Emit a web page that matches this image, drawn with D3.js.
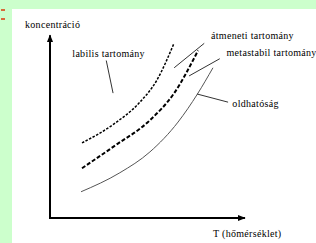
<!DOCTYPE html>
<meta charset="utf-8">
<script src="https://d3js.org/d3.v7.min.js"></script>
<style>
body { margin: 0; }
</style>
<body>
<script>
// curve points, in axis units (0..100 on both axes)
var oldhatosag = [[16, 14.5], [36, 25], [51.5, 36.5], [66, 53], [76, 68.5], [84, 83]];
var metastabil = [[16.5, 27.5], [33.5, 40], [51.5, 54], [64, 69], [76.3, 92.5]];
var labilis = [[16.5, 41.5], [33, 52], [45.9, 63.5], [55, 76], [63.9, 96.5]];

// labels: text, anchor point [x, y] in axis units
var labelText = ["labilis tartomány", "átmeneti tartomány", "metastabil tartomány", "oldhatóság"];
var labelPos = [[11.5, 89], [83, 99], [91, 89.5], [94, 61.5]];
// leader lines from label to region
var leaderFrom = [[29, 87], [79.5, 96.5], [87.5, 88], [91.8, 64]];
var leaderTo = [[32.5, 69], [64, 83], [71.7, 78.5], [75.8, 68.5]];

var axisTitleY = "koncentráció";
var axisTitleX = "T (hőmérséklet)";

var W = 316, H = 243;
var font = "'Liberation Serif', 'Times New Roman', serif";
var svg = d3.select("body").append("svg")
    .attr("width", W)
    .attr("height", H);

// page background
svg.append("rect").attr("width", W).attr("height", H).attr("fill", "#ccffcc");
svg.append("rect").attr("x", 12).attr("y", 9).attr("width", W - 12).attr("height", H - 9).attr("fill", "#fff");
// little marks top-left
[9, 18].forEach(function(y) {
    svg.append("rect").attr("x", 1).attr("y", y).attr("width", 4).attr("height", 2).attr("fill", "#d86a3a");
});

var x = d3.scaleLinear().domain([0, 100]).range([50, 244]);
var y = d3.scaleLinear().domain([0, 100]).range([218, 37]);

// axes with arrows
svg.append("defs").append("marker")
    .attr("id", "arrow")
    .attr("viewBox", "0 0 10 10")
    .attr("refX", 9).attr("refY", 5)
    .attr("markerWidth", 4).attr("markerHeight", 4)
    .attr("markerUnits", "strokeWidth")
    .attr("orient", "auto")
    .append("path").attr("d", "M0,1 L10,5 L0,9 Z").attr("fill", "#000");

svg.append("line")
    .attr("x1", x(0)).attr("y1", y(0))
    .attr("x2", x(0)).attr("y2", y(101))
    .attr("stroke", "#000").attr("stroke-width", 2)
    .attr("marker-end", "url(#arrow)");
svg.append("line")
    .attr("x1", x(0) - 1).attr("y1", y(0))
    .attr("x2", x(100.5)).attr("y2", y(0))
    .attr("stroke", "#000").attr("stroke-width", 2)
    .attr("marker-end", "url(#arrow)");

var line = d3.line()
    .x(function(d) { return x(d[0]); })
    .y(function(d) { return y(d[1]); })
    .curve(d3.curveMonotoneX);

svg.append("path").datum(oldhatosag)
    .attr("d", line).attr("fill", "none")
    .attr("stroke", "#555").attr("stroke-width", 1);
svg.append("path").datum(metastabil)
    .attr("d", line).attr("fill", "none")
    .attr("stroke", "#000").attr("stroke-width", 2)
    .attr("stroke-dasharray", "4,2");
svg.append("path").datum(labilis)
    .attr("d", line).attr("fill", "none")
    .attr("stroke", "#000").attr("stroke-width", 1.5)
    .attr("stroke-dasharray", "2.5,1.5");

// leader lines
svg.selectAll(".leader")
    .data(leaderFrom)
    .enter().append("line")
    .attr("class", "leader")
    .attr("x1", function(d) { return x(d[0]); })
    .attr("y1", function(d) { return y(d[1]); })
    .attr("x2", function(d, i) { return x(leaderTo[i][0]); })
    .attr("y2", function(d, i) { return y(leaderTo[i][1]); })
    .attr("stroke", "#333").attr("stroke-width", 1);

svg.selectAll(".label")
    .data(labelText)
    .enter().append("text")
    .attr("class", "label")
    .attr("x", function(d, i) { return x(labelPos[i][0]); })
    .attr("y", function(d, i) { return y(labelPos[i][1]); })
    .attr("font-family", font).attr("font-size", "10px")
    .attr("letter-spacing", "0.3px")
    .text(function(d) { return d; });

svg.append("text").attr("x", 25).attr("y", 28)
    .attr("font-family", font).attr("font-size", "10px")
    .attr("letter-spacing", "0.3px")
    .text(axisTitleY);
svg.append("text").attr("x", 213).attr("y", 237)
    .attr("font-family", font).attr("font-size", "10px")
    .attr("letter-spacing", "0.3px")
    .text(axisTitleX);
</script>
</body>
